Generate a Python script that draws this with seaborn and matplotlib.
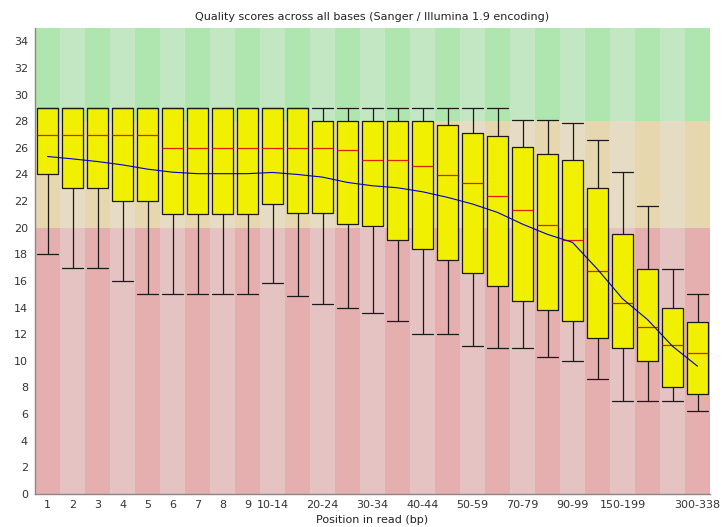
import numpy as np
import pandas as pd
import matplotlib
matplotlib.use("Agg")
import matplotlib.pyplot as plt
import seaborn as sns
from matplotlib.patches import Rectangle

categories = ["1", "2", "3", "4", "5", "6", "7", "8", "9", "10-14", "15-19",
              "20-24", "25-29", "30-34", "35-39", "40-44", "45-49", "50-59",
              "60-69", "70-79", "80-89", "90-99", "100-149", "150-199",
              "200-249", "250-299", "300-338"]
shown_labels = ["1", "2", "3", "4", "5", "6", "7", "8", "9", "10-14", "",
                "20-24", "", "30-34", "", "40-44", "", "50-59",
                "", "70-79", "", "90-99", "", "150-199",
                "", "", "300-338"]
whisker_low = [18, 17, 17, 16, 15, 15, 15, 15, 15, 15.85, 14.9, 14.3, 14.0,
               13.6, 13.0, 12.0, 12.0, 11.1, 11.0, 11.0, 10.3, 10.0, 8.6,
               7.0, 7.0, 7.0, 6.2]
q1 = [24, 23, 23, 22, 22, 21, 21, 21, 21, 21.8, 21.1, 21.1, 20.3, 20.1, 19.1,
      18.4, 17.6, 16.6, 15.6, 14.5, 13.8, 13.0, 11.7, 11.0, 10.0, 8.0, 7.5]
median = [27, 27, 27, 27, 27, 26, 26, 26, 26, 26, 26, 26, 25.85, 25.07, 25.07,
          24.67, 23.96, 23.36, 22.36, 21.35, 20.24, 19.07, 16.75, 14.34,
          12.53, 11.2, 10.6]
q3 = [29, 29, 29, 29, 29, 29, 29, 29, 29, 29, 29, 28, 28, 28, 28, 28, 27.7,
      27.1, 26.9, 26.05, 25.5, 25.1, 23.0, 19.5, 16.9, 14.0, 12.9]
whisker_high = [29, 29, 29, 29, 29, 29, 29, 29, 29, 29, 29, 29, 29, 29, 29,
                29, 29, 29, 29, 28.1, 28.1, 27.9, 26.6, 24.2, 21.6, 16.9, 15.0]
mean = [25.35, 25.17, 24.97, 24.72, 24.4, 24.17, 24.06, 24.06, 24.06, 24.15,
        24.0, 23.8, 23.4, 23.15, 23.0, 22.7, 22.28, 21.78, 21.15, 20.27, 19.5,
        18.9, 16.88, 14.67, 13.1, 11.1, 9.6]

zone_bounds = [0, 20, 28, 35]
zone_light = ["#E6C3C3", "#E6DCC3", "#C3E6C3"]
zone_dark = ["#E6AFAF", "#E6D7AF", "#AFE6AF"]

sns.set_style("white")
plt.rcParams['font.family'] = ['DejaVu Sans']

rows = []
for cat, lo, a, m, b, hi in zip(categories, whisker_low, q1, median, q3, whisker_high):
    for v in (lo, a, m, b, hi):
        rows.append({"Position": cat, "Quality": v})
df = pd.DataFrame(rows)

fig = plt.figure(figsize=(7.22, 5.27), dpi=100)
ax = fig.add_axes([35 / 722, 1 - 494 / 527, 675 / 722, 466 / 527])

n = len(categories)
for i in range(n):
    cols = zone_dark if i % 2 == 0 else zone_light
    for z in range(3):
        ax.add_patch(Rectangle((i - 0.5, zone_bounds[z]), 1,
                               zone_bounds[z + 1] - zone_bounds[z],
                               facecolor=cols[z], edgecolor="none", zorder=0))

sns.boxplot(data=df, x="Position", y="Quality", order=categories,
            whis=(0, 100), width=0.84, color="#F0F000", saturation=1,
            linecolor="#1a1a1a", linewidth=0.9, showfliers=False,
            medianprops=dict(color="#E02000", linewidth=0.9), ax=ax)

for c in ax.containers:
    if hasattr(c, "caps"):
        for cap in c.caps:
            x = np.asarray(cap.get_xdata(), dtype=float)
            cx = x.mean()
            cap.set_xdata([cx - 0.42, cx + 0.42])

ax.plot(np.arange(n), mean, color=(0, 0, 200 / 255), linewidth=0.8, zorder=5)

ax.set_xlim(-0.5, n - 0.5)
ax.set_ylim(0, 35)
ax.set_xticks(np.arange(n))
ax.set_xticklabels(shown_labels)
ax.set_yticks(np.arange(0, 35, 2))
ax.tick_params(axis="both", length=0, labelsize=8, colors="#333333")
ax.tick_params(axis="x", pad=4)
ax.tick_params(axis="y", pad=5)
for s in ["top", "right"]:
    ax.spines[s].set_visible(False)
for s in ["left", "bottom"]:
    ax.spines[s].set_color("#888888")
    ax.spines[s].set_linewidth(1)

ax.set_title("Quality scores across all bases (Sanger / Illumina 1.9 encoding)",
             fontsize=8, pad=6, color="#222222")
ax.set_xlabel("Position in read (bp)", fontsize=8, labelpad=4, color="#222222")
ax.set_ylabel("")

fig.savefig("out.png", dpi=100)
